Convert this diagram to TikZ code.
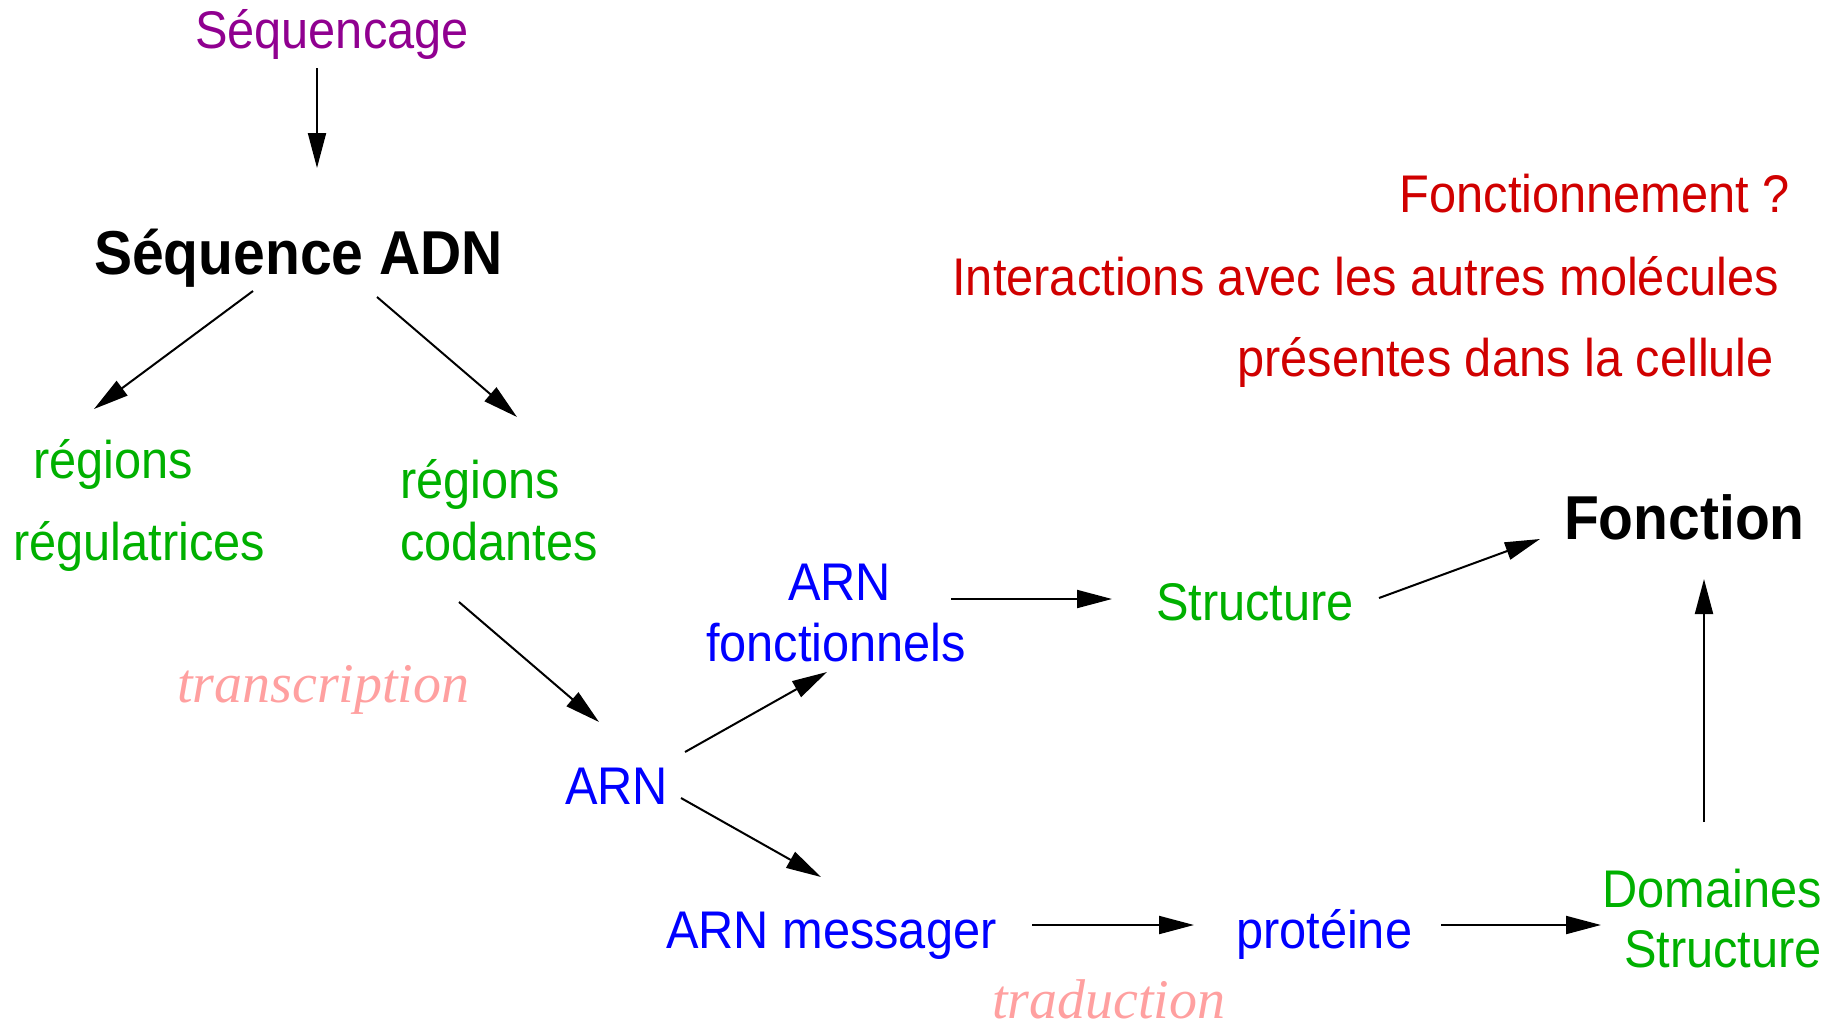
\documentclass[tikz,border=0pt]{standalone}
\usepackage{fontspec}
\usetikzlibrary{arrows.meta}
\newfontfamily\hvfont{Liberation Sans}[FakeStretch=0.92]
\newfontfamily\tmfont{Liberation Serif}
\definecolor{cpurple}{HTML}{900090}
\definecolor{cgreen}{HTML}{00B000}
\definecolor{cblue}{HTML}{0000FF}
\definecolor{cred}{HTML}{D00000}
\definecolor{cpink}{HTML}{FFA0A0}
\begin{document}
\begin{tikzpicture}[x=1pt,y=-1pt,
  every node/.style={inner sep=0pt,outer sep=0pt},
  txt/.style={font=\hvfont\fontsize{53}{60}\selectfont},
  bold/.style={font=\hvfont\bfseries\fontsize{62}{70}\selectfont},
  proc/.style={font=\tmfont\itshape\fontsize{56}{64}\selectfont,text=cpink},
  arr/.style={line width=2pt,-{Triangle[length=35pt,width=18pt]}}]
\useasboundingbox (0,0) rectangle (1845,1031);
% texts
\node[txt,text=cpurple,anchor=base west] (seqg) at (195,48) {Séquencage};
\node[bold,anchor=base west] (adn) at (94,274) {Séquence ADN};
\node[txt,text=cgreen,anchor=base west] (reg1) at (33,478) {régions};
\node[txt,text=cgreen,anchor=base west] (reg2) at (13,560) {régulatrices};
\node[txt,text=cgreen,anchor=base west] (cod1) at (400,498) {régions};
\node[txt,text=cgreen,anchor=base west] (cod2) at (400,560) {codantes};
\node[proc,anchor=base west] (transc) at (177,702) {transcription};
\node[txt,text=cblue,anchor=base west] (arn) at (565,804) {ARN};
\node[txt,text=cblue,anchor=base west] (arnf1) at (788,600) {ARN};
\node[txt,text=cblue,anchor=base west] (arnf2) at (706,661) {fonctionnels};
\node[txt,text=cgreen,anchor=base west] (struct) at (1156,620) {Structure};
\node[bold,anchor=base west] (fonc) at (1564,539) {Fonction};
\node[txt,text=cblue,anchor=base west] (arnm) at (666,948) {ARN messager};
\node[txt,text=cblue,anchor=base west] (prot) at (1236,948) {protéine};
\node[txt,text=cgreen,anchor=base east] (dom1) at (1822,907) {Domaines};
\node[txt,text=cgreen,anchor=base east] (dom2) at (1822,967) {Structure};
\node[proc,anchor=base west] (trad) at (992,1018) {traduction};
\node[txt,text=cred,anchor=base east] (q1) at (1790,212) {Fonctionnement ?};
\node[txt,text=cred,anchor=base east] (q2) at (1779,295) {Interactions avec les autres molécules};
\node[txt,text=cred,anchor=base east] (q3) at (1774,376) {présentes dans la cellule};
% connector ends
\coordinate (a1s) at (317,68);   \coordinate (a1e) at (317,168);
\coordinate (a2s) at (253,291);  \coordinate (a2e) at (94,409);
\coordinate (a3s) at (377,297);  \coordinate (a3e) at (517,417);
\coordinate (a4s) at (459,602);  \coordinate (a4e) at (599,722);
\coordinate (a5s) at (685,752);  \coordinate (a5e) at (827,672);
\coordinate (a6s) at (681,798);  \coordinate (a6e) at (821,877);
\coordinate (a7s) at (951,599);  \coordinate (a7e) at (1112,599);
\coordinate (a8s) at (1379,598); \coordinate (a8e) at (1540,539);
\coordinate (a9s) at (1704,822); \coordinate (a9e) at (1704,579);
\coordinate (a10s) at (1032,925); \coordinate (a10e) at (1194,925);
\coordinate (a11s) at (1441,925); \coordinate (a11e) at (1601,925);
% connectors
\draw[arr] (a1s) -- (a1e);
\draw[arr] (a2s) -- (a2e);
\draw[arr] (a3s) -- (a3e);
\draw[arr] (a4s) -- (a4e);
\draw[arr] (a5s) -- (a5e);
\draw[arr] (a6s) -- (a6e);
\draw[arr] (a7s) -- (a7e);
\draw[arr] (a8s) -- (a8e);
\draw[arr] (a9s) -- (a9e);
\draw[arr] (a10s) -- (a10e);
\draw[arr] (a11s) -- (a11e);
\end{tikzpicture}
\end{document}
